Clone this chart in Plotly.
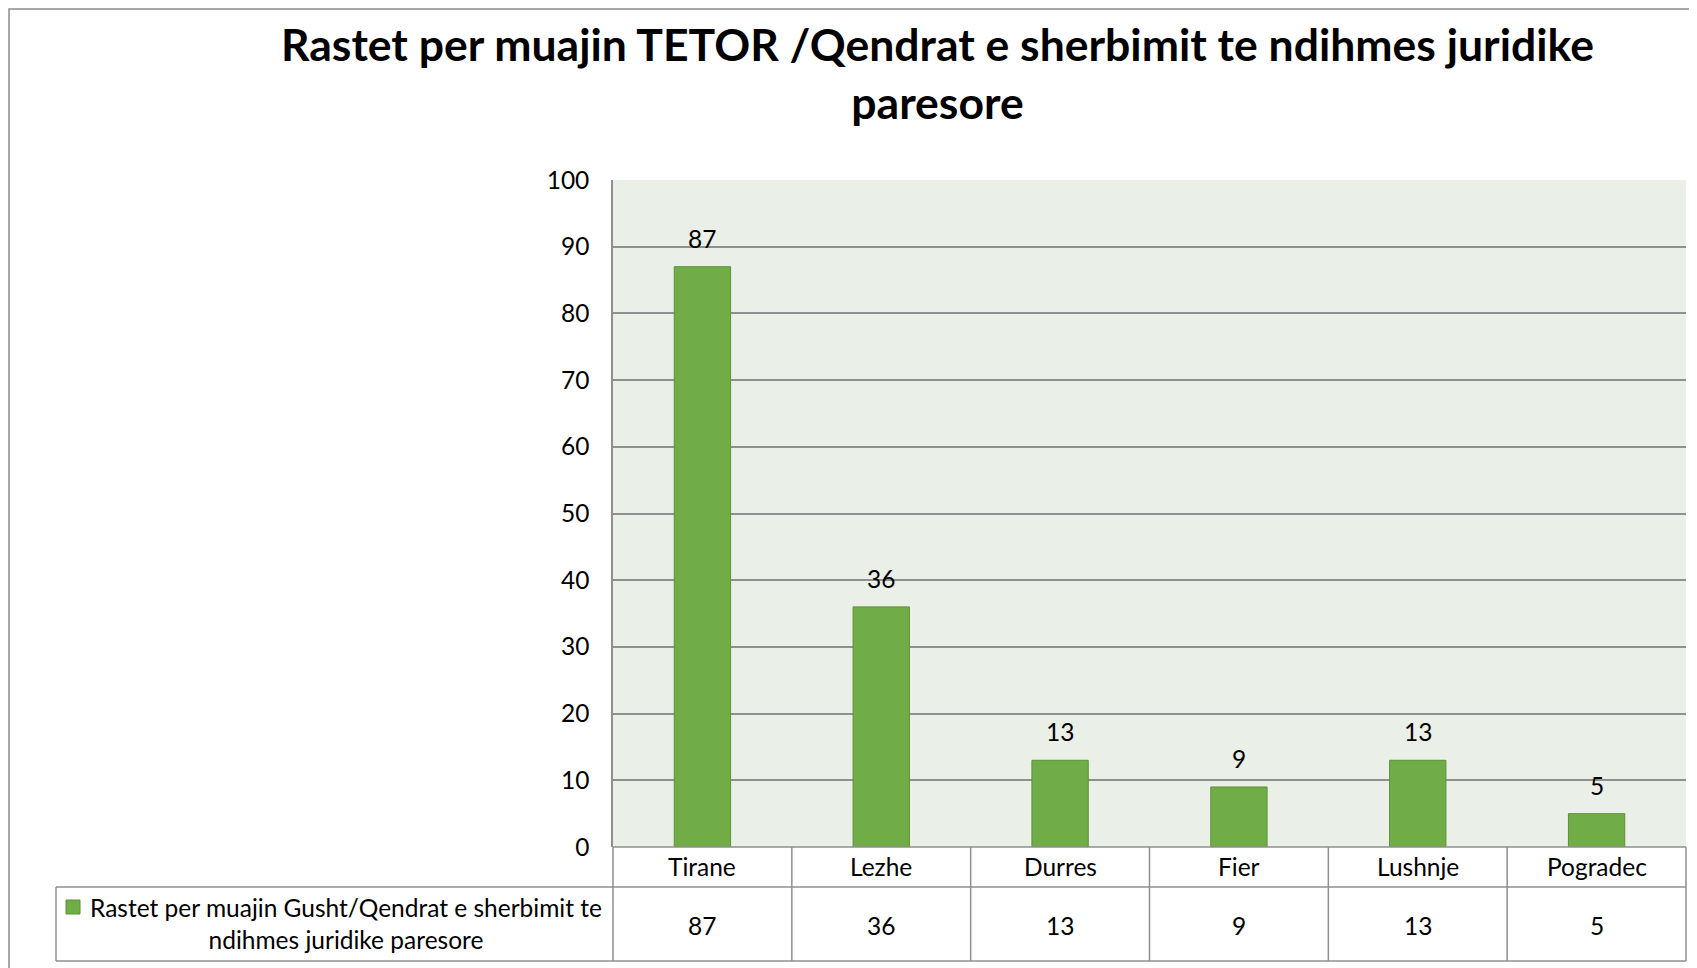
import plotly.graph_objects as go

categories = ["Tirane", "Lezhe", "Durres", "Fier", "Lushnje", "Pogradec"]
values = [87, 36, 13, 9, 13, 5]
series_name = "Rastet per muajin Gusht/Qendrat e sherbimit te<br>ndihmes juridike paresore"
title_text = "Rastet per muajin TETOR /Qendrat e sherbimit te ndihmes juridike<br>paresore"
y_ticks = list(range(0, 101, 10))

W, H = 1697, 968
OFF = 8  # page body margin
L, R, T, B = 613 - OFF, 1686 - OFF, 180 - OFF, 847 - OFF
PW, PH = R - L, B - T

def px(fx):
    return (fx - OFF - L) / PW

def py(fy):
    return (B - (fy - OFF)) / PH

FONT = "Lato"
FS = 24.5
BAR = "#70AD47"
GRID = "#8f8f8f"

fig = go.Figure()
fig.add_trace(go.Bar(
    x=categories, y=values, name=series_name,
    marker=dict(color=BAR, line=dict(color="#5b9237", width=1)),
    showlegend=False,
))

annotations = []
# title
annotations.append(dict(x=px(937), y=py(15), xref="paper", yref="paper", text="<b>" + title_text + "</b>",
                        showarrow=False, xanchor="center", yanchor="top", align="center",
                        font=dict(family=FONT, size=44.5, color="black")))
# data labels
for c, v in zip(categories, values):
    annotations.append(dict(x=c, y=v, xref="x", yref="y", text=str(v), showarrow=False,
                            yanchor="bottom", yshift=12, font=dict(family=FONT, size=FS, color="black")))
# table: category row and value row
for c, v in zip(categories, values):
    annotations.append(dict(x=c, y=py(867), xref="x", yref="paper", text=c, showarrow=False,
                            yanchor="middle", font=dict(family=FONT, size=FS, color="black")))
    annotations.append(dict(x=c, y=py(925), xref="x", yref="paper", text=str(v), showarrow=False,
                            yanchor="middle", font=dict(family=FONT, size=FS, color="black")))
# legend cell text
annotations.append(dict(x=px(346), y=py(923), xref="paper", yref="paper", text=series_name,
                        showarrow=False, xanchor="center", yanchor="middle", align="center",
                        font=dict(family=FONT, size=FS, color="black")))

shapes = []
line = dict(color=GRID, width=1.5)
# table horizontal lines
shapes.append(dict(type="line", xref="paper", yref="paper", x0=0, x1=1, y0=py(847), y1=py(847), line=line))
shapes.append(dict(type="line", xref="paper", yref="paper", x0=px(56), x1=1, y0=py(887), y1=py(887), line=line))
shapes.append(dict(type="line", xref="paper", yref="paper", x0=px(56), x1=1, y0=py(961), y1=py(961), line=line))
# legend cell left edge
shapes.append(dict(type="line", xref="paper", yref="paper", x0=px(56), x1=px(56), y0=py(887), y1=py(961), line=line))
# vertical column separators (category boundaries)
n = len(categories)
for i in range(n + 1):
    xv = i / n
    shapes.append(dict(type="line", xref="paper", yref="paper", x0=xv, x1=xv, y0=py(847), y1=py(961), line=line))
# legend key
shapes.append(dict(type="rect", xref="paper", yref="paper", x0=px(66), x1=px(80), y0=py(914), y1=py(900),
                   fillcolor=BAR, line=dict(color="#5b9237", width=1)))
# outer chart border
shapes.append(dict(type="rect", xref="paper", yref="paper", x0=px(9), x1=px(1760), y0=py(1040), y1=py(9),
                   line=dict(color="#8c8c8c", width=1.5), fillcolor="rgba(0,0,0,0)", layer="below"))

fig.update_layout(
    width=W, height=H,
    margin=dict(l=L, r=W - R, t=T, b=H - B, pad=0),
    paper_bgcolor="white",
    plot_bgcolor="#EAEFE8",
    bargap=0.685,
    xaxis=dict(showticklabels=False, showgrid=False, zeroline=False, showline=False,
               range=[-0.5, n - 0.5]),
    yaxis=dict(range=[0, 100], tickvals=y_ticks, ticktext=[str(t) for t in y_ticks],
               showgrid=True, gridcolor=GRID, gridwidth=1.5, zeroline=False,
               showline=True, linecolor=GRID, linewidth=1.5, ticks="", ticklabelstandoff=17,
               tickfont=dict(family=FONT, size=FS, color="black")),
    annotations=annotations, shapes=shapes,
    font=dict(family=FONT),
)

fig.write_html("out.html")
